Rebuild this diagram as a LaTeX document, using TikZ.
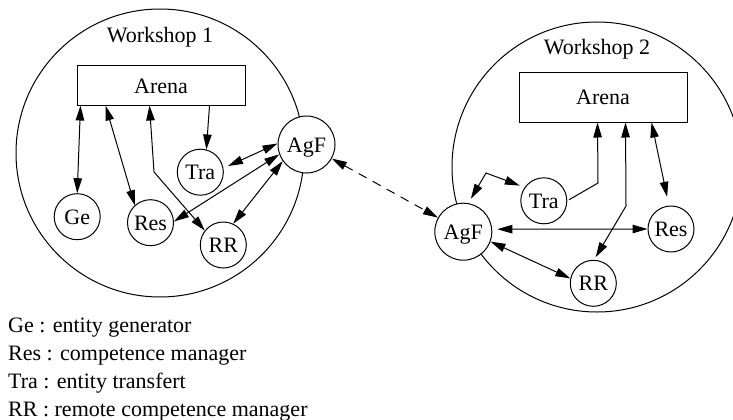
\documentclass[tikz,border=0pt]{standalone}
\usepackage{fontspec}
\setmainfont{Liberation Serif}
\usetikzlibrary{arrows.meta,calc}
\begin{document}
\begin{tikzpicture}[x=1pt,y=-1pt,
  every node/.style={font=\fontsize{22}{28}\selectfont},
  ag/.style={circle,draw,fill=white,line width=1pt,minimum size=46pt,inner sep=0pt,text height=15pt,text depth=0pt},
  agf/.style={ag,minimum size=57pt,text depth=-5pt},
  arenabox/.style={draw,line width=1pt,minimum width=168pt,inner sep=0pt,text height=15pt,text depth=0pt},
  plain/.style={inner sep=0pt},
  ws/.style={line width=1pt},
  conn/.style={line width=1pt,{Triangle[length=15pt,width=8.5pt]}-{Triangle[length=15pt,width=8.5pt]}},
  conn1/.style={line width=1pt,-{Triangle[length=15pt,width=8.5pt]}}]
\useasboundingbox (0,0) rectangle (733,420);

% workshop boundaries
\draw[ws] (160,153) circle[radius=144pt];
\draw[ws] (597,167) circle[radius=145pt];

% Workshop 1
\node[plain,anchor=base] (w1) at (160,43) {Workshop 1};
\node[arenabox,minimum height=39pt] (a1) at (161,85.5) {Arena};
\node[ag] (ge) at (77.2,216.7) {Ge};
\node[ag] (res1) at (150.5,222.7) {Res};
\node[ag] (tra1) at (200.3,172.2) {Tra};
\node[ag] (rr1) at (223.3,245) {RR};
\node[agf] (agf1) at (306.5,144.5) {AgF};

% Workshop 2
\node[plain,anchor=base] (w2) at (597,55) {Workshop 2};
\node[arenabox,minimum height=50pt] (a2) at (603,97) {Arena};
\node[ag] (tra2) at (543.8,200.8) {Tra};
\node[agf] (agf2) at (463.3,231.7) {AgF};
\node[ag] (res2) at (671,229) {Res};
\node[ag] (rr2) at (593.3,283.3) {RR};

% legend
\node[plain,anchor=base west] (l1) at (8,332) {Ge : entity generator};
\node[plain,anchor=base west] (l2) at (8,360) {Res : competence manager};
\node[plain,anchor=base west] (l3) at (8,388) {Tra : entity transfert};
\node[plain,anchor=base west] (l4) at (8,416) {RR : remote competence manager};

% connectors workshop 1
\coordinate (b1) at (154,172);
\draw[conn] ([xshift=4pt]a1.south west) -- (ge.north);
\draw[conn] ([xshift=29pt]a1.south west) -- (res1.132);
\draw[conn] ([xshift=73pt]a1.south west) -- (b1) -- (rr1.142);
\draw[conn1] ([xshift=133pt]a1.south west) -- (tra1.75);
\draw[conn,shorten <=5pt] (tra1.10) -- (agf1.178);
\draw[conn] (res1.3) -- (agf1.200);
\draw[conn] (rr1.65) -- (agf1.215);

% link between workshops
\draw[conn,dash pattern=on 9pt off 7pt] (agf1) -- (agf2);

% connectors workshop 2
\coordinate (b2) at (598,183);
\coordinate (b3) at (486,173);
\coordinate (b4) at (626,206);
\draw[conn1,shorten <=2pt] (tra2.east) -- (b2) -- ([xshift=79pt]a2.south west);
\draw[conn,shorten <=5pt,shorten >=5pt] (agf2.80) -- (b3) -- (tra2.145);
\draw[conn,shorten >=3pt] ([xshift=107pt]a2.south west) -- (b4) -- (rr2.88);
\draw[conn,shorten >=9pt] ([xshift=133pt]a2.south west) -- (res2.95);
\draw[conn,shorten <=5pt] ([yshift=2.5pt]agf2.east) -- (res2.west);
\draw[conn] (agf2.-20) -- (rr2.168);
\end{tikzpicture}
\end{document}
